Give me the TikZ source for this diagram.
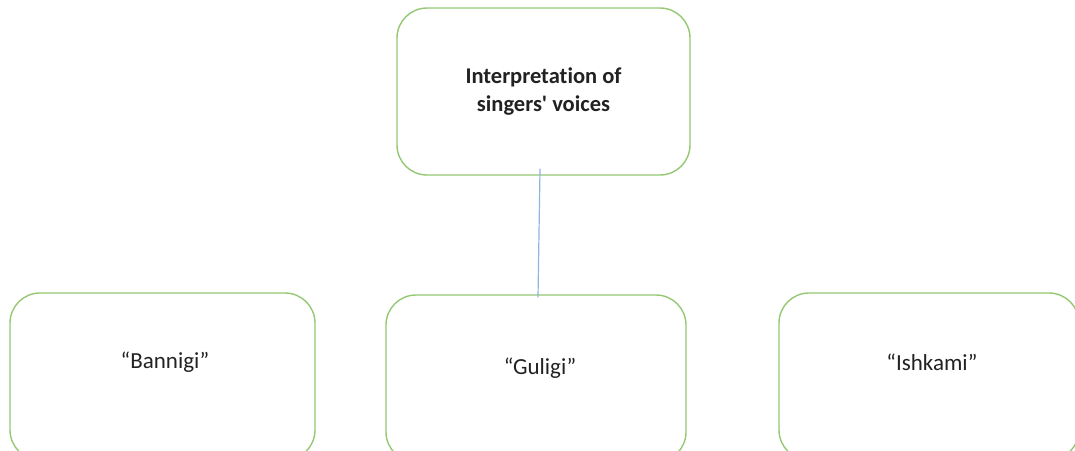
\documentclass[tikz,border=0pt]{standalone}
\usepackage{fontspec}
\setmainfont[Ligatures={TeX,NoCommon}]{Carlito}
\usetikzlibrary{calc}
\definecolor{boxgreen}{HTML}{94C873}
\definecolor{lineblue}{HTML}{8EB4E3}
\definecolor{txt}{HTML}{222222}
\tikzset{
  stepbox/.style={draw=boxgreen, line width=1.4pt, rounded corners=30pt, fill=white,
    minimum width=#1, minimum height=167pt, inner sep=0pt, text=txt, align=center},
  conn/.style={draw=lineblue, line width=1.2pt},
  lbl/.style={font=\fontsize{23}{26}\selectfont, text=txt}
}
\begin{document}
\begin{tikzpicture}[x=1pt,y=-1pt]
\useasboundingbox (0,0) rectangle (1075,450);
\clip (0,0) rectangle (1075,450);
\node[stepbox=293pt, font=\fontsize{22.5}{28}\selectfont\bfseries] (top) at (543.5,91.5) {Interpretation of\\singers\textquotesingle{} voices};
\node[stepbox=305pt] (ban) at (162.5,376.5) {};
\node[stepbox=300pt] (gul) at (536,378.5) {};
\node[stepbox=300pt] (ish) at (929,376.5) {};
\node[lbl] (tban) at (165,362) {“Bannigi”};
\node[lbl] (tgul) at (540,368) {“Guligi”};
\node[lbl] (tish) at (932,362) {“Ishkami”};
\coordinate (c1) at ($(top.south)+(-3.5,-7)$);
\coordinate (c2) at ($(gul.north)+(2,3)$);
\draw[conn] (c1) -- (c2);
\end{tikzpicture}
\end{document}
